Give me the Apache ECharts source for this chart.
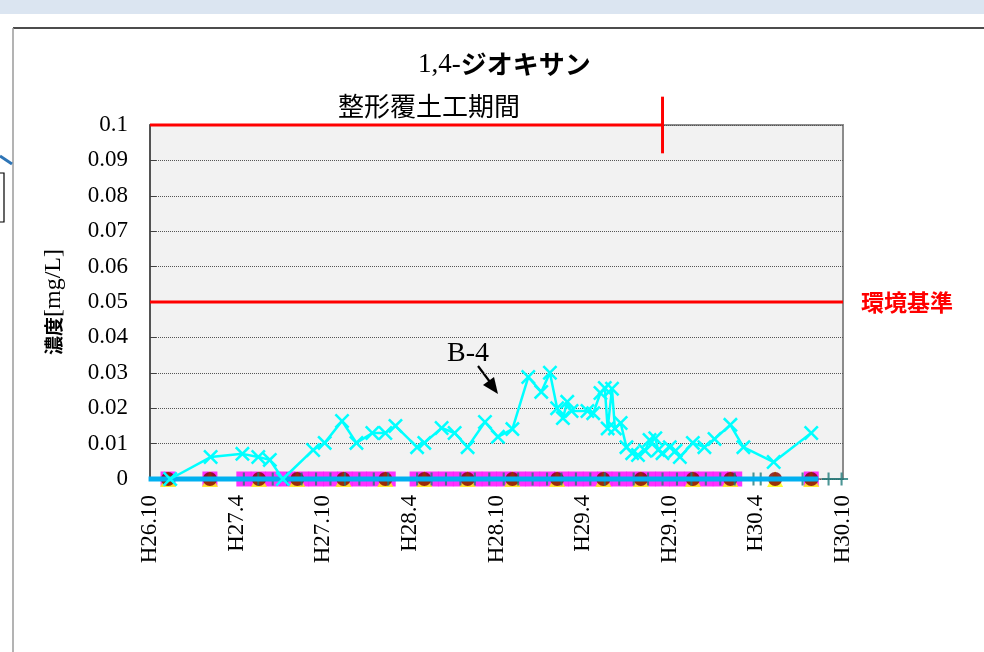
<!DOCTYPE html>
<html>
<head>
<meta charset="utf-8">
<script src="https://cdn.jsdelivr.net/npm/echarts@6/dist/echarts.min.js"></script>
<style>
  html, body { margin: 0; padding: 0; background: #fff; }
  #chart { width: 984px; height: 652px; }
</style>
</head>
<body>
<div id="chart"></div>
<script>
  // x axis: months counted from H26.10
  const xLabels = ['H26.10', 'H27.4', 'H27.10', 'H28.4', 'H28.10', 'H29.4', 'H29.10', 'H30.4', 'H30.10']
  const yTicks = [0, 0.01, 0.02, 0.03, 0.04, 0.05, 0.06, 0.07, 0.08, 0.09, 0.1]

  // B-4
  const b4Months = [1.4, 4.2, 6.4, 7.5, 8.3, 9.2, 11.3, 12.1, 13.3, 14.3, 15.4, 16.3, 17.0,
    18.5, 19.0, 20.2, 21.1, 22.0, 23.2, 24.1, 25.1, 26.2, 27.1, 27.7, 28.2, 28.6, 28.9, 29.2,
    30.3, 30.7, 31.2, 31.5, 31.7, 32.0, 32.2, 32.6, 33.0, 33.4, 33.8, 34.3, 34.6, 35.0, 35.2,
    35.5, 36.0, 36.4, 36.7, 37.6, 38.4, 39.1, 40.2, 41.1, 43.2, 45.8]
  const b4Values = [0, 0.0062, 0.0071, 0.0062, 0.0054, 0, 0.0082, 0.0102, 0.0164, 0.0102, 0.013, 0.013, 0.015,
    0.009, 0.0102, 0.0144, 0.013, 0.009, 0.0161, 0.0119, 0.0141, 0.0288, 0.0246, 0.030, 0.020, 0.0172, 0.0218, 0.0192,
    0.0192, 0.0186, 0.0243, 0.0257, 0.0143, 0.0255, 0.0143, 0.0158, 0.009, 0.0073, 0.0068, 0.008, 0.011, 0.0115, 0.0082,
    0.0073, 0.009, 0.008, 0.0062, 0.0102, 0.009, 0.0113, 0.0153, 0.009, 0.0048, 0.013]

  // other wells, all below detection (0)
  const circleMonths = [1.25, 4.15, 7.55, 10.2, 13.4, 16.3, 19.0, 22.0, 25.1, 28.2, 31.4, 34.0, 37.6, 40.2, 43.3, 45.8]
  const magentaMonths = [1.25, 4.15, 6.5, 7.5, 8.5, 9.5, 10.5, 11.5, 12.5, 13.5, 14.5, 15.5, 16.5, 18.5, 19.5,
    20.5, 21.5, 22.5, 23.5, 24.5, 25.5, 26.5, 27.5, 28.5, 29.5, 30.5, 31.5, 32.5, 33.5, 34.5, 35.5, 36.5,
    37.5, 38.5, 39.5, 40.5, 45.8]
  const plusMonths = [6.5, 7.5, 8.5, 9.5, 10.5, 11.5, 12.5, 13.5, 14.5, 15.5, 16.5, 18.5, 19.5, 20.5, 21.5,
    22.5, 23.5, 24.5, 25.5, 26.5, 27.5, 28.5, 29.5, 30.5, 31.5, 32.5, 33.5, 34.5, 35.5, 36.5, 37.5, 38.5,
    39.5, 40.5, 41.8, 42.3, 45.2, 47.0, 47.9]
  const blueMonths = [-0.1, 46.3]
  const blueValues = [0, 0]

  // reference lines
  const periodMonths = [0, 35.5]
  const periodValue = 0.1
  const periodTickValues = [0.108, 0.092]
  const stdMonths = [0, 48]
  const stdValue = 0.05

  const serif = "'Liberation Serif', 'Times New Roman', 'Noto Sans CJK JP', serif"
  const gothic = "'Noto Sans CJK JP', sans-serif"
  const xMark = 'path://M0,1.2L1.2,0L5,3.8L8.8,0L10,1.2L6.2,5L10,8.8L8.8,10L5,6.2L1.2,10L0,8.8L3.8,5Z'
  const plusMark = 'path://M4.2,0H5.8V10H4.2ZM0,4.2H10V5.8H0Z'

  const zeros = (arr) => arr.map(m => [m, 0])

  const myChart = echarts.init(document.getElementById('chart'))
  const option = {
    animation: false,
    backgroundColor: '#fff',
    title: {
      text: '{a|1,4-}{b|ジオキサン}',
      left: 413,
      top: 46,
      textStyle: {
        fontWeight: 'normal',
        rich: {
          a: { fontFamily: serif, fontSize: 27, fontWeight: 'normal', color: '#000' },
          b: { fontFamily: gothic, fontSize: 26, fontWeight: 'bold', color: '#000' }
        }
      }
    },
    grid: {
      left: 150, right: 141, top: 125, bottom: 173,
      show: true, backgroundColor: '#f2f2f2', borderColor: '#8c8c8c', borderWidth: 2
    },
    xAxis: {
      type: 'value',
      min: 0, max: 48, interval: 6,
      axisLine: { show: false },
      axisTick: { show: false },
      splitLine: { show: false },
      axisLabel: {
        rotate: 90, margin: 16,
        fontFamily: serif, fontSize: 23, color: '#000',
        formatter: v => xLabels[Math.round(v / 6)]
      }
    },
    yAxis: {
      type: 'value',
      min: 0, max: 0.1, interval: 0.01,
      name: '{a|濃度}{b|[mg/L]}',
      nameLocation: 'middle',
      nameGap: 84,
      nameTextStyle: {
        rich: {
          a: { fontFamily: gothic, fontSize: 19, fontWeight: 'bold', color: '#000' },
          b: { fontFamily: serif, fontSize: 24, color: '#000' }
        }
      },
      axisLine: { show: true, lineStyle: { color: '#404040', width: 1.5 } },
      axisTick: { show: true, inside: true, length: 6, lineStyle: { color: '#404040' } },
      splitLine: { show: true, lineStyle: { color: '#555', type: 'dotted', width: 1 } },
      axisLabel: {
        margin: 22, fontFamily: serif, fontSize: 23, color: '#000',
        formatter: v => String(+v.toFixed(2))
      }
    },
    graphic: [
      { type: 'rect', shape: { x: 0, y: 0, width: 984, height: 14 }, style: { fill: '#dbe5f1' } },
      { type: 'line', shape: { x1: 13, y1: 28, x2: 984, y2: 28 }, style: { stroke: '#111', lineWidth: 1.5 } },
      { type: 'line', shape: { x1: 13, y1: 28, x2: 13, y2: 652 }, style: { stroke: '#9a9a9a', lineWidth: 1.5 } },
      { type: 'line', shape: { x1: 0, y1: 156, x2: 12, y2: 164 }, style: { stroke: '#2e75b6', lineWidth: 3 } },
      { type: 'rect', shape: { x: -10, y: 173, width: 14, height: 49 }, style: { fill: 'none', stroke: '#000', lineWidth: 1.2 } },
      {
        type: 'text', left: 338, top: 93,
        style: { text: '整形覆土工期間', font: "26px 'Noto Sans CJK JP'", fill: '#000' }
      },
      {
        type: 'text', left: 447, top: 340,
        style: { text: 'B-4', font: "28px 'Liberation Serif'", fill: '#000' }
      },
      { type: 'line', shape: { x1: 478, y1: 366, x2: 490, y2: 382 }, style: { stroke: '#000', lineWidth: 2.2 } },
      { type: 'polygon', shape: { points: [[498, 394], [483, 385], [494, 377]] }, style: { fill: '#000' } }
    ],
    series: [
      {
        type: 'line', silent: true, clip: false, symbol: 'none',
        lineStyle: { color: '#ff0000', width: 3 },
        data: periodMonths.map(m => [m, periodValue])
      },
      {
        type: 'line', silent: true, clip: false, symbol: 'none',
        lineStyle: { color: '#ff0000', width: 3 },
        data: periodTickValues.map(v => [periodMonths[1], v])
      },
      {
        type: 'line', silent: true, clip: false, symbol: 'none',
        lineStyle: { color: '#ff0000', width: 3 },
        data: stdMonths.map(m => [m, stdValue]),
        endLabel: {
          show: true, formatter: '環境基準', distance: 18,
          fontFamily: gothic, fontSize: 23, fontWeight: 'bold', color: '#ff0000'
        }
      },
      {
        type: 'scatter', clip: false, symbol: 'rect', symbolSize: 15,
        itemStyle: { color: '#ff00ff' },
        data: zeros(magentaMonths)
      },
      {
        type: 'scatter', clip: false, symbol: 'triangle', symbolSize: 16,
        itemStyle: { color: '#ffff00' },
        data: zeros(circleMonths)
      },
      {
        type: 'scatter', clip: false, symbol: 'circle', symbolSize: 14,
        itemStyle: { color: '#800000' },
        data: zeros(circleMonths)
      },
      {
        type: 'scatter', clip: false, symbol: plusMark, symbolSize: 13,
        itemStyle: { color: '#1e7b7b' },
        data: zeros(plusMonths)
      },
      {
        type: 'line', clip: false, symbol: 'none',
        lineStyle: { color: '#00b0f0', width: 5 },
        data: blueMonths.map((m, i) => [m, blueValues[i]])
      },
      {
        name: 'B-4', type: 'line', clip: false,
        symbol: xMark, symbolSize: 15, showAllSymbol: true,
        lineStyle: { color: '#00ffff', width: 2.5 },
        itemStyle: { color: '#00ffff' },
        data: b4Months.map((m, i) => [m, b4Values[i]])
      }
    ]
  }
  myChart.setOption(option)
</script>
</body>
</html>
